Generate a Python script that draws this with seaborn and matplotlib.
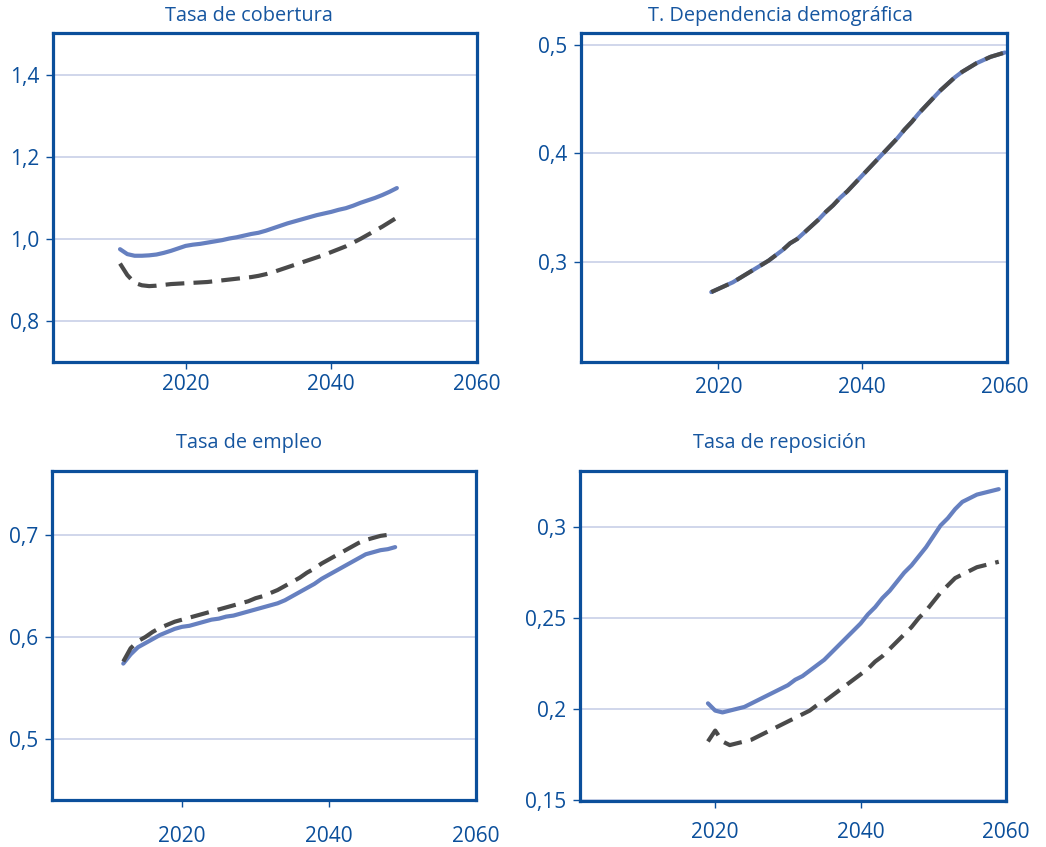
import numpy as np
import pandas as pd
import matplotlib
matplotlib.use("Agg")
import matplotlib.pyplot as plt
import seaborn as sns
from matplotlib.ticker import FuncFormatter

# ---------------- data ----------------
years_cob = list(range(2011, 2050))
cob_solid = [0.975, 0.963, 0.959, 0.959, 0.960, 0.962, 0.966, 0.971, 0.977, 0.983,
             0.986, 0.988, 0.991, 0.994, 0.997, 1.001, 1.004, 1.008, 1.012, 1.015,
             1.020, 1.026, 1.032, 1.038, 1.043, 1.048, 1.053, 1.058, 1.062, 1.066,
             1.071, 1.075, 1.081, 1.088, 1.094, 1.100, 1.107, 1.115, 1.124]
cob_dashed = [0.940, 0.912, 0.893, 0.887, 0.885, 0.886, 0.888, 0.890, 0.891, 0.892,
              0.893, 0.894, 0.895, 0.897, 0.899, 0.901, 0.903, 0.905, 0.907, 0.910,
              0.914, 0.919, 0.925, 0.931, 0.937, 0.943, 0.949, 0.955, 0.961, 0.968,
              0.975, 0.982, 0.991, 1.000, 1.010, 1.020, 1.030, 1.041, 1.052]

years_dep = list(range(2019, 2061))
dep_values = [0.272, 0.275, 0.278, 0.281, 0.285, 0.289, 0.293, 0.297, 0.301, 0.306,
              0.311, 0.317, 0.321, 0.327, 0.333, 0.339, 0.346, 0.352, 0.359, 0.365,
              0.372, 0.379, 0.386, 0.393, 0.400, 0.407, 0.414, 0.422, 0.429, 0.437,
              0.444, 0.451, 0.458, 0.464, 0.470, 0.475, 0.479, 0.483, 0.486, 0.489,
              0.491, 0.493]

years_emp = list(range(2012, 2050))
emp_solid = [0.574, 0.583, 0.590, 0.594, 0.598, 0.602, 0.605, 0.608, 0.610, 0.611,
             0.613, 0.615, 0.617, 0.618, 0.620, 0.621, 0.623, 0.625, 0.627, 0.629,
             0.631, 0.633, 0.636, 0.640, 0.644, 0.648, 0.652, 0.657, 0.661, 0.665,
             0.669, 0.673, 0.677, 0.681, 0.683, 0.685, 0.686, 0.688]
emp_dashed = [0.576, 0.589, 0.596, 0.600, 0.605, 0.609, 0.612, 0.615, 0.617, 0.619,
              0.621, 0.623, 0.625, 0.627, 0.629, 0.631, 0.633, 0.635, 0.638, 0.640,
              0.643, 0.646, 0.650, 0.654, 0.658, 0.663, 0.667, 0.672, 0.676, 0.680,
              0.684, 0.688, 0.692, 0.695, 0.697, 0.699, 0.700, 0.700]

years_rep = list(range(2019, 2060))
rep_solid = [0.203, 0.199, 0.198, 0.199, 0.200, 0.201, 0.203, 0.205, 0.207, 0.209,
             0.211, 0.213, 0.216, 0.218, 0.221, 0.224, 0.227, 0.231, 0.235, 0.239,
             0.243, 0.247, 0.252, 0.256, 0.261, 0.265, 0.270, 0.275, 0.279, 0.284,
             0.289, 0.295, 0.301, 0.305, 0.310, 0.314, 0.316, 0.318, 0.319, 0.320,
             0.321]
rep_dashed = [0.182, 0.188, 0.182, 0.180, 0.181, 0.182, 0.183, 0.185, 0.187, 0.189,
              0.191, 0.193, 0.195, 0.197, 0.199, 0.202, 0.204, 0.207, 0.210, 0.213,
              0.216, 0.219, 0.222, 0.226, 0.229, 0.233, 0.237, 0.241, 0.245, 0.250,
              0.254, 0.259, 0.264, 0.268, 0.272, 0.274, 0.276, 0.278, 0.279, 0.280,
              0.281]

titles = ["Tasa de cobertura", "T. Dependencia demográfica",
          "Tasa de empleo", "Tasa de reposición"]
x_ticks = [2020, 2040, 2060]
y_ticks = [[0.8, 1.0, 1.2, 1.4], [0.3, 0.4, 0.5], [0.5, 0.6, 0.7],
           [0.15, 0.2, 0.25, 0.3]]

# ---------------- style ----------------
sns.set_theme(style="white")
plt.rcParams['font.family'] = ['Open Sans', 'DejaVu Sans']

BLUE = "#0b4f9b"
TITLE = "#1656a0"
SOLID = "#6680c0"
DASH = "#4a4a4a"
GRID = "#c3cce6"

W, H = 1046, 847
fig = plt.figure(figsize=(W / 100, H / 100), dpi=100)

# axes boxes in pixels: left, top, right, bottom
boxes = [(53, 33, 477, 362), (581, 33, 1007, 362),
         (52, 471, 476, 800), (580, 471, 1006, 801)]
xlims = [(2001.8, 2060), (2000.8, 2060.3), (2002.3, 2060), (2001.4, 2059.8)]
ylims = [(0.70, 1.502), (0.2075, 0.511), (0.4405, 0.7625), (0.1492, 0.331)]
fmts = [lambda v, p: f"{v:.1f}".replace('.', ','),
        lambda v, p: f"{v:.1f}".replace('.', ','),
        lambda v, p: f"{v:.1f}".replace('.', ','),
        lambda v, p: f"{v:g}".replace('.', ',')]
title_pos = [(249, 16), (780, 16), (249, 443), (780, 443)]
xpads = [4, 6, 14, 10]

series = [
    (years_cob, cob_solid, cob_dashed),
    (years_dep, dep_values, dep_values),
    (years_emp, emp_solid, emp_dashed),
    (years_rep, rep_solid, rep_dashed),
]

for i, (l, t, r, b) in enumerate(boxes):
    ax = fig.add_axes([l / W, 1 - b / H, (r - l) / W, (b - t) / H])
    yrs, s, d = series[i]
    df = pd.DataFrame({"year": yrs, "solid": s, "dashed": d})
    sns.lineplot(data=df, x="year", y="solid", ax=ax, color=SOLID, lw=3.0,
                 zorder=3)
    sns.lineplot(data=df, x="year", y="dashed", ax=ax, color=DASH, lw=3.0,
                 zorder=4)
    ax.lines[-1].set_dashes((4.5, 2.2))
    ax.set_xlim(*xlims[i])
    ax.set_ylim(*ylims[i])
    ax.set_xticks(x_ticks)
    ax.set_yticks(y_ticks[i])
    ax.yaxis.set_major_formatter(FuncFormatter(fmts[i]))
    ax.set_xlabel("")
    ax.set_ylabel("")
    ax.grid(axis='y', color=GRID, lw=1.1, zorder=1)
    ax.grid(axis='x', visible=False)
    for sp in ax.spines.values():
        sp.set_visible(True)
        sp.set_color(BLUE)
        sp.set_linewidth(2.3)
        sp.set_zorder(5)
    ax.tick_params(axis='both', which='major', length=5, width=1.0,
                   color=BLUE, labelcolor=BLUE, labelsize=15, direction='out',
                   bottom=True, left=True)
    ax.tick_params(axis='x', pad=xpads[i])
    ax.tick_params(axis='y', pad=5)
    ax.xaxis.get_major_ticks()[-1].tick1line.set_visible(False)
    tx, ty = title_pos[i]
    fig.text(tx / W, 1 - ty / H, titles[i], ha='center', va='center',
             color=TITLE, fontsize=14.3)

fig.savefig("out.png", dpi=100)
